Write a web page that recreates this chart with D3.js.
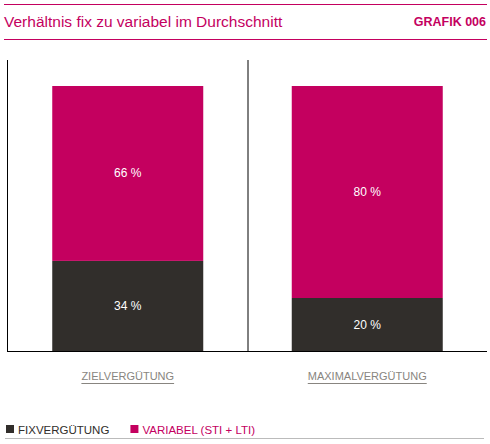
<!DOCTYPE html>
<html><head><meta charset="utf-8">
<script src="https://cdn.jsdelivr.net/npm/d3@7"></script>
<style>body{margin:0;background:#fff}</style>
</head><body>
<script>
const categories = ["ZIELVERGÜTUNG", "MAXIMALVERGÜTUNG"];
const fix = [34, 20];
const variabel = [66, 80];
const seriesNames = ["FIXVERGÜTUNG", "VARIABEL (STI + LTI)"];
const colors = ["#312e2b", "#c4005f"];
const magenta = "#c4005f";

const W = 490, H = 444;
const svg = d3.select("body").append("svg").attr("width", W).attr("height", H)
  .attr("font-family", "Liberation Sans, Arial, sans-serif");

svg.append("line").attr("x1", 4).attr("x2", 487).attr("y1", 4.5).attr("y2", 4.5).attr("stroke", magenta);
svg.append("line").attr("x1", 4).attr("x2", 487).attr("y1", 39.5).attr("y2", 39.5).attr("stroke", magenta);
svg.append("text").attr("x", 4).attr("y", 27).attr("fill", magenta).attr("font-size", 15.5)
  .text("Verhältnis fix zu variabel im Durchschnitt");
svg.append("text").attr("x", 486).attr("y", 26).attr("fill", magenta).attr("font-size", 12.5)
  .attr("font-weight", "bold").attr("text-anchor", "end").text("GRAFIK 006");

const x = d3.scaleBand().domain(categories).range([8, 487]).paddingInner(0).paddingOuter(0);
const y = d3.scaleLinear().domain([0, 100]).range([351, 86]);
const bw = 151;

const g = svg.append("g");
categories.forEach((c, i) => {
  const cx = x(c) + x.bandwidth() / 2;
  const stack = [[0, fix[i]], [fix[i], fix[i] + variabel[i]]];
  stack.forEach((s, j) => {
    g.append("rect").attr("x", cx - bw / 2).attr("width", bw)
      .attr("y", y(s[1])).attr("height", y(s[0]) - y(s[1])).attr("fill", colors[j]);
    g.append("text").attr("x", cx).attr("y", (y(s[0]) + y(s[1])) / 2 + 4)
      .attr("text-anchor", "middle").attr("fill", "#fff").attr("font-size", 12)
      .text((s[1] - s[0]) + " %");
  });
  const t = g.append("text").attr("x", cx).attr("y", 380).attr("text-anchor", "middle")
    .attr("fill", "#888580").attr("font-size", 11).text(c);
  const bb = t.node().getBBox();
  g.append("line").attr("x1", bb.x).attr("x2", bb.x + bb.width).attr("y1", 383.5).attr("y2", 383.5)
    .attr("stroke", "#888580");
});

svg.append("line").attr("x1", 7.5).attr("x2", 7.5).attr("y1", 60).attr("y2", 351).attr("stroke", "#000");
svg.append("line").attr("x1", x(categories[1]) + 0.5).attr("x2", x(categories[1]) + 0.5)
  .attr("y1", 60).attr("y2", 351).attr("stroke", "#000");
svg.append("line").attr("x1", 7).attr("x2", 487).attr("y1", 351.5).attr("y2", 351.5).attr("stroke", "#000");

const leg = svg.append("g");
let lx = 6;
seriesNames.forEach((n, i) => {
  leg.append("rect").attr("x", lx).attr("y", 425).attr("width", 8).attr("height", 8).attr("fill", colors[i]);
  const t = leg.append("text").attr("x", lx + 12).attr("y", 434).attr("font-size", 11.5)
    .attr("fill", colors[i]).text(n);
  lx += 12 + t.node().getBBox().width + 21;
});
svg.append("line").attr("x1", 5).attr("x2", 484).attr("y1", 438.5).attr("y2", 438.5).attr("stroke", "#bbb");
</script>
</body></html>
